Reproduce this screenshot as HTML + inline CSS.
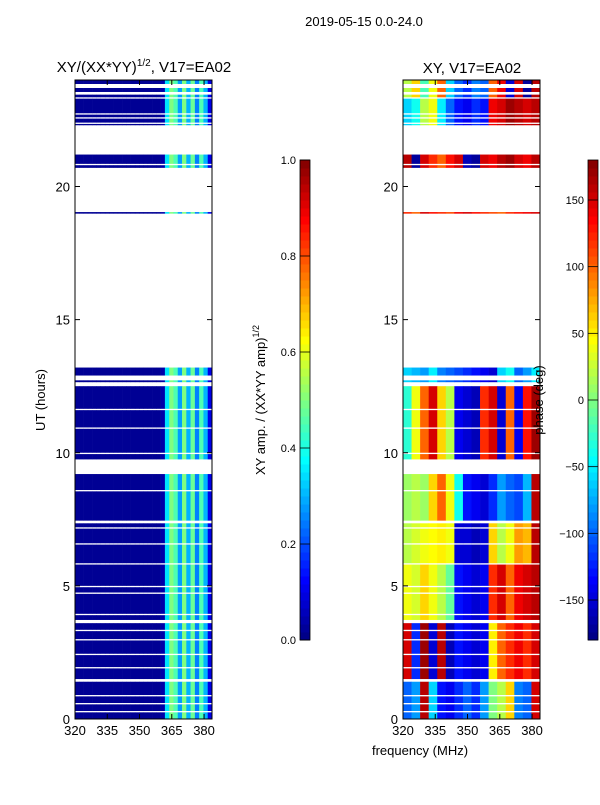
<!DOCTYPE html>
<html><head><meta charset="utf-8"><style>
body{margin:0;background:#fff;}
svg text{font-family:"Liberation Sans",sans-serif;}
</style></head><body>
<svg id="fig" width="600" height="800" viewBox="0 0 600 800" xmlns="http://www.w3.org/2000/svg">
<rect width="600" height="800" fill="#fff"/>
<text x="364" y="26" font-size="13" text-anchor="middle">2019-05-15 0.0-24.0</text>
<text x="144" y="72" font-size="15" text-anchor="middle">XY/(XX*YY)<tspan font-size="10" dy="-6">1/2</tspan><tspan dy="6">, V17=EA02</tspan></text>
<text x="472" y="73" font-size="15" text-anchor="middle">XY, V17=EA02</text>
<g id="ampPanel"></g>
<g id="phasePanel"></g>
<g id="axes"></g>
<text transform="translate(45,400) rotate(-90)" font-size="13" text-anchor="middle">UT (hours)</text>
<text x="420" y="755" font-size="13" text-anchor="middle">frequency (MHz)</text>
<text transform="translate(265,400) rotate(-90)" font-size="13" text-anchor="middle">XY amp. / (XX*YY amp)<tspan font-size="9" dy="-6">1/2</tspan></text>
<text transform="translate(543,400) rotate(-90)" font-size="13" text-anchor="middle">phase (deg)</text>
</svg>
<script>
// data
const hourBands=[[0,0.25],[0.3,0.55],[0.6,0.85],[0.9,1.4],[1.5,1.9],[1.95,2.4],[2.45,2.95],[3.0,3.3],[3.35,3.6],[3.72,3.9],[3.95,4.7],[4.75,4.95],[5.0,5.8],[5.85,6.55],[6.6,7.15],[7.2,7.35],[7.45,8.55],[8.6,9.2],[9.75,9.95],[10.0,10.9],[10.95,11.6],[11.65,12.5],[12.65,12.72],[12.9,13.2],[18.98,19.04],[20.7,20.8],[20.85,21.2],[22.3,22.35],[22.4,22.55],[22.6,22.7],[22.75,23.3],[23.35,23.45],[23.55,23.7],[23.85,24]];
const ampProfile=[0.02,0.02,0.02,0.02,0.02,0.02,0.02,0.02,0.02,0.02,0.02,0.02,0.02,0.02,0.02,0.02,0.02,0.02,0.02,0.02,0.04,0.35,0.5,0.45,0.28,0.5,0.3,0.48,0.25,0.45,0.3,0.1];
const phaseStarts=[0,1.5,3.7,5.3,7.3,9.7,12.6,18.9,20.7,22.3,23.3];
const phaseRows=[
[-100,-80,160,-60,-130,-140,-120,-100,-120,-80,0,20,60,-90,-100,150],
[150,-120,170,-150,160,-160,-130,-140,-150,-140,50,100,120,140,120,150],
[40,30,60,40,20,-10,-130,-140,-150,-140,120,150,100,140,150,160],
[20,30,40,45,50,40,-150,-150,-160,-150,60,20,40,80,70,160],
[10,20,10,60,100,40,-40,-130,-140,-150,-120,-80,-100,-110,-70,160],
[-30,40,100,150,60,20,-140,-150,-160,120,150,-150,100,-140,130,170],
[-60,-70,-80,-50,-90,-100,-110,-120,-130,-140,-150,-60,-40,-100,-80,-50],
[120,100,150,130,120,110,140,150,130,120,110,100,120,130,140,150],
[160,-170,150,120,100,130,150,-160,-170,150,140,160,170,150,140,160],
[-60,-40,20,40,-50,-100,-130,-140,-120,-130,140,150,170,160,150,160],
[20,60,-20,40,100,-60,-100,-120,-90,-100,100,140,-150,150,-170,160]];
const xTicks=[320,335,350,365,380];
const yTicks=[0,5,10,15,20];
const ampTicks=[0.0,0.2,0.4,0.6,0.8,1.0];
const phaseTicks=[-150,-100,-50,0,50,100,150];

const NS='http://www.w3.org/2000/svg';
const F0=320,F1=383.7,YT=80,YB=719;
const panels=[{x0:75,x1:212},{x0:403,x1:540}];
function xs(p,f){return p.x0+(f-F0)/(F1-F0)*(p.x1-p.x0);}
function ys(h){return YB-h/24*(YB-YT);}
function jet(v){v=Math.max(0,Math.min(1,v));
 const r=Math.max(0,Math.min(1,1.5-Math.abs(4*v-3))),g=Math.max(0,Math.min(1,1.5-Math.abs(4*v-2))),b=Math.max(0,Math.min(1,1.5-Math.abs(4*v-1)));
 return `rgb(${Math.round(r*255)},${Math.round(g*255)},${Math.round(b*255)})`;}
function mk(tag,attrs,parent){const e=document.createElementNS(NS,tag);for(const k in attrs)e.setAttribute(k,attrs[k]);parent.appendChild(e);return e;}
const ampG=document.getElementById('ampPanel'),phG=document.getElementById('phasePanel'),ax=document.getElementById('axes');
function phaseRowFor(h){let i=0;for(let k=0;k<phaseStarts.length;k++)if(h>=phaseStarts[k])i=k;return phaseRows[i];}
hourBands.forEach(b=>{
 const y0=ys(b[1]),y1=ys(b[0]);
 const na=ampProfile.length,fw=(F1-F0)/na;
 ampProfile.forEach((v,i)=>{
  const r=mk('rect',{x:xs(panels[0],F0+i*fw),y:y0,width:(panels[0].x1-panels[0].x0)/na+0.3,height:y1-y0,fill:jet(v)},ampG);
  
  
 });
 const row=phaseRowFor(b[0]),np=row.length,pw=(F1-F0)/np;
 row.forEach((v,i)=>{
  const r=mk('rect',{x:xs(panels[1],F0+i*pw),y:y0,width:(panels[1].x1-panels[1].x0)/np+0.3,height:y1-y0,fill:jet((v+180)/360)},phG);
  
  
 });
});
panels.forEach((p,pi)=>{
 const fr=mk('rect',{x:p.x0,y:YT,width:p.x1-p.x0,height:YB-YT,fill:'none',stroke:'#000','stroke-width':1},ax);
 
 
 xTicks.forEach(t=>{const x=xs(p,t);
  mk('line',{x1:x,x2:x,y1:YB,y2:YB-5,stroke:'#000'},ax);mk('line',{x1:x,x2:x,y1:YT,y2:YT+5,stroke:'#000'},ax);
  const tx=mk('text',{x:x,y:YB+16,'font-size':13,'text-anchor':'middle'},ax);tx.textContent=t;
  
  });
 yTicks.forEach(t=>{const y=ys(t);
  mk('line',{x1:p.x0,x2:p.x0+5,y1:y,y2:y,stroke:'#000'},ax);mk('line',{x1:p.x1,x2:p.x1-5,y1:y,y2:y,stroke:'#000'},ax);
  const tx=mk('text',{x:p.x0-5,y:y+5,'font-size':13,'text-anchor':'end'},ax);tx.textContent=t;
  
  });
});
// colorbars
const CT=160,CB=640;
function colorbar(x,vmin,vmax,ticks,name){
 const n=60;
 for(let i=0;i<n;i++){const r=mk('rect',{x:x,y:CB-(i+1)*(CB-CT)/n,width:10,height:(CB-CT)/n+0.5,fill:jet((i+0.5)/n)},ax);
  
  }
 const fr=mk('rect',{x:x,y:CT,width:10,height:CB-CT,fill:'none',stroke:'#000','stroke-width':0.8},ax);
 
 
 ticks.forEach(t=>{const y=CB-(t-vmin)/(vmax-vmin)*(CB-CT);
  mk('line',{x1:x,x2:x+10,y1:y,y2:y,stroke:'#000','stroke-width':0.8},ax);
  const tx=mk('text',{x:x-4,y:y+4,'font-size':11,'text-anchor':'end'},ax);
  tx.textContent=(vmax===1?t.toFixed(1):(t<0?'\u2212'+(-t):t));
  
  });
}
colorbar(300,0,1,ampTicks,'amp-colorbar');
colorbar(588,-180,180,phaseTicks,'phase-colorbar');
</script>
</body></html>
